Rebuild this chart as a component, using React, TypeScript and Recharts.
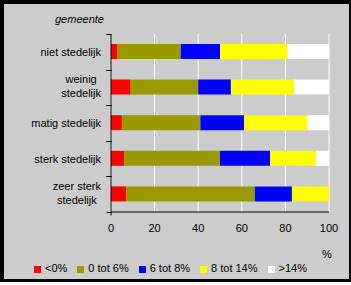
import { BarChart, Bar, XAxis, YAxis, CartesianGrid, Legend } from 'recharts';

const FONT = '"Liberation Sans", Arial, sans-serif';

const categories = ['niet stedelijk', 'weinig stedelijk', 'matig stedelijk', 'sterk stedelijk', 'zeer sterk stedelijk'];
const below0 = [3, 9, 5, 6, 7];
const from0to6 = [29, 31, 36, 44, 59];
const from6to8 = [18, 15, 20, 23, 17];
const from8to14 = [31, 29, 29, 21, 17];
const above14 = [19, 16, 10, 6, 0];

const seriesNames = ['<0%', '0 tot 6%', '6 tot 8%', '8 tot 14%', '>14%'];
const seriesColors = ['#ff0000', '#999900', '#0000ff', '#ffff00', '#ffffff'];
const valueTicks = [0, 20, 40, 60, 80, 100];

const data = categories.map((name, i) => ({
  name,
  s0: below0[i],
  s1: from0to6[i],
  s2: from6to8[i],
  s3: from8to14[i],
  s4: above14[i],
}));

let measureCtx: CanvasRenderingContext2D | null = null;
function textWidth(s: string) {
  if (!measureCtx) measureCtx = document.createElement('canvas').getContext('2d');
  if (!measureCtx) return s.length * 5;
  measureCtx.font = `11px ${FONT}`;
  return measureCtx.measureText(s).width;
}

// excel-style category tick: marks on the band edges, label wrapped + centered
function CategoryTick(props: any) {
  const { payload, index, visibleTicksCount } = props;
  const x = Number(props.x);
  const y = Number(props.y);
  const half = Number(payload?.offset) || 0;
  const ax = Math.round(x + 10) + 0.5;
  const top = Math.round(y - half) + 0.5;
  const bottom = Math.round(y + half) + 0.5;
  const isLast = index === (visibleTicksCount ?? categories.length) - 1;
  const label = String(payload.value);
  const words = label.split(' ');
  const lines = label.length > 15 ? [words.slice(0, -1).join(' '), words[words.length - 1]] : [label];
  const blockW = Math.max(...lines.map(textWidth));
  const cx = x - blockW / 2;
  const dy0 = lines.length > 1 ? -(lines.length - 1) * 7 + 3 : 4;
  return (
    <g>
      <line x1={ax - 5} x2={ax} y1={top} y2={top} stroke="#000" strokeWidth={1} />
      <line x1={ax - 5} x2={ax} y1={bottom} y2={bottom} stroke="#000" strokeWidth={1} />
      {isLast && <line x1={ax - 0.5} x2={ax - 0.5} y1={bottom} y2={bottom + 3} stroke="#000" strokeWidth={1} />}
      <text x={cx} y={y} textAnchor="middle" fontSize={11} fontFamily={FONT} fill="#000">
        {lines.map((l, i) => (
          <tspan key={i} x={cx} dy={i === 0 ? dy0 : 14}>
            {l}
          </tspan>
        ))}
      </text>
    </g>
  );
}

export default function App() {
  return (
    <div style={{ position: 'relative', width: 351, height: 285, background: '#fff', fontFamily: FONT }}>
      <style>{'body{margin:0}'}</style>
      <div
        style={{
          position: 'absolute',
          left: 0,
          top: 0,
          width: 351,
          height: 282,
          boxSizing: 'border-box',
          background: '#cccccc',
          borderStyle: 'solid',
          borderColor: '#000',
          borderWidth: '4px 2px 3px 4px',
        }}
      />
      <div style={{ position: 'absolute', left: 55, top: 12, fontSize: 11, lineHeight: '14px', fontStyle: 'italic', color: '#000' }}>
        gemeente
      </div>
      <div style={{ position: 'absolute', left: 322, top: 247, fontSize: 11, lineHeight: '14px', color: '#000' }}>%</div>
      <div style={{ position: 'absolute', left: 0, top: 0 }}>
        <BarChart
          width={351}
          height={285}
          data={data}
          layout="vertical"
          margin={{ top: 34, right: 22, bottom: 43, left: 8 }}
          barSize={15}
        >
          <CartesianGrid horizontal={false} stroke="#ffffff" />
          <XAxis
            type="number"
            domain={[0, 100]}
            ticks={valueTicks}
            height={30}
            tickLine={false}
            tickSize={4}
            tickMargin={8}
            axisLine={{ stroke: '#000' }}
            tick={{ fill: '#000', fontSize: 11, fontFamily: FONT }}
          />
          <XAxis
            xAxisId="top"
            orientation="top"
            type="number"
            domain={[0, 100]}
            height={0}
            tick={false}
            tickLine={false}
            axisLine={{ stroke: '#999999' }}
          />
          <YAxis
            type="category"
            dataKey="name"
            width={103}
            tickLine={false}
            tickSize={0}
            tickMargin={10}
            axisLine={{ stroke: '#000' }}
            tick={<CategoryTick />}
            interval={0}
          />
          <YAxis
            yAxisId="right"
            orientation="right"
            type="category"
            dataKey="name"
            width={0}
            tick={false}
            tickLine={false}
            axisLine={{ stroke: '#999999' }}
          />
          <Legend
            verticalAlign="middle"
            align="center"
            layout="horizontal"
            iconType="square"
            iconSize={7}
            itemSorter={(item: any) => seriesNames.indexOf(item.value)}
            wrapperStyle={{ top: 262, left: 0, width: 351, fontSize: 11, fontFamily: FONT, lineHeight: '13px' }}
            formatter={(v: any) => <span style={{ color: '#000' }}>{v}</span>}
          />
          {['s0', 's1', 's2', 's3', 's4'].map((key, i) => (
            <Bar
              key={key}
              dataKey={key}
              name={seriesNames[i]}
              stackId="a"
              fill={seriesColors[i]}
              isAnimationActive={false}
            />
          ))}
        </BarChart>
      </div>
    </div>
  );
}
